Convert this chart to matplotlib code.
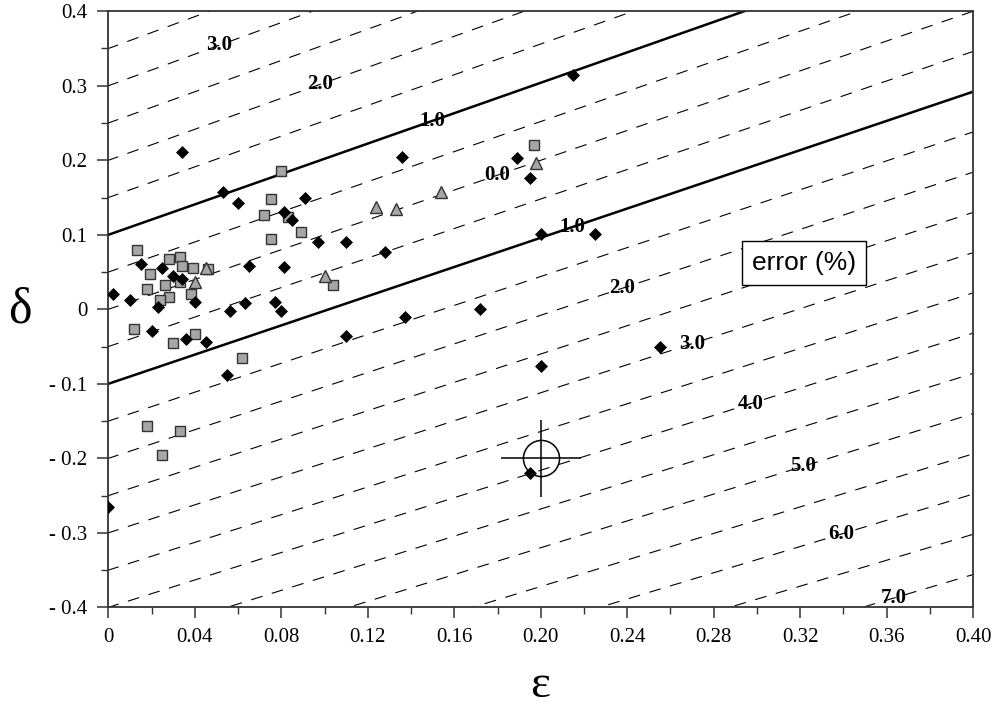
import numpy as np
import matplotlib
matplotlib.use("Agg")
import matplotlib.pyplot as plt

plt.rcParams['lines.scale_dashes'] = False

# ---------------- data ----------------
# black diamonds
dia_eps = [0.034, 0.053, 0.060, 0.091, 0.081, 0.085, 0.097, 0.110, 0.128, 0.136,
           0.015, 0.025, 0.030, 0.034, 0.065, 0.081, 0.002, 0.010, 0.023, 0.040,
           0.056, 0.063, 0.077, 0.080, 0.020, 0.036, 0.045, 0.055, 0.110, 0.000,
           0.215, 0.189, 0.195, 0.200, 0.225, 0.172, 0.137, 0.200, 0.255, 0.195]
dia_del = [0.211, 0.157, 0.143, 0.149, 0.131, 0.120, 0.090, 0.090, 0.077, 0.205,
           0.061, 0.055, 0.045, 0.040, 0.058, 0.057, 0.021, 0.012, 0.003, 0.010,
           -0.002, 0.008, 0.010, -0.002, -0.029, -0.040, -0.044, -0.088, -0.036, -0.265,
           0.314, 0.203, 0.176, 0.101, 0.101, 0.000, -0.011, -0.076, -0.050, -0.220]

# grey squares
sq_eps = [0.080, 0.075, 0.072, 0.083, 0.089, 0.075, 0.013, 0.028, 0.033, 0.034,
          0.039, 0.046, 0.019, 0.026, 0.033, 0.018, 0.028, 0.024, 0.038, 0.104,
          0.012, 0.030, 0.040, 0.062, 0.018, 0.033, 0.025, 0.197]
sq_del = [0.186, 0.148, 0.127, 0.124, 0.104, 0.094, 0.079, 0.068, 0.070, 0.058,
          0.056, 0.054, 0.047, 0.033, 0.037, 0.027, 0.016, 0.012, 0.020, 0.033,
          -0.027, -0.045, -0.033, -0.065, -0.156, -0.163, -0.196, 0.221]

# grey triangles
tri_eps = [0.124, 0.133, 0.045, 0.040, 0.100, 0.198, 0.154]
tri_del = [0.137, 0.134, 0.056, 0.037, 0.045, 0.196, 0.158]

# reference point with cross
ref_eps = [0.200]
ref_del = [-0.200]
ref_eps_err = [0.0185]
ref_del_err = [0.052]

# error contour lines: delta = eps + c * (1 + 0.2 * eps)
contour_offsets = np.round(np.arange(-0.70, 0.351, 0.05), 2)
solid_offsets = [0.10, -0.10]
pivot_coef = 0.2

# contour labels
label_text = ["3.0", "2.0", "1.0", "0.0", "1.0", "2.0", "3.0", "4.0", "5.0", "6.0", "7.0"]
label_c    = [0.30, 0.20, 0.10, 0.00, -0.10, -0.20, -0.30, -0.40, -0.50, -0.60, -0.70]
label_eps  = [0.0514, 0.0978, 0.1497, 0.180, 0.2146, 0.2378, 0.2702, 0.2971, 0.3212, 0.3388, 0.3634]

xticks = [0, 0.04, 0.08, 0.12, 0.16, 0.20, 0.24, 0.28, 0.32, 0.36, 0.40]
xticklabels = ["0", "0.04", "0.08", "0.12", "0.16", "0.20", "0.24", "0.28", "0.32", "0.36", "0.40"]
yticks = [-0.4, -0.3, -0.2, -0.1, 0, 0.1, 0.2, 0.3, 0.4]
yticklabels = ["- 0.4", "- 0.3", "- 0.2", "- 0.1", "0", "0.1", "0.2", "0.3", "0.4"]

# ---------------- plot ----------------
serif = "Liberation Serif"
fig = plt.figure(figsize=(9.95, 7.10), dpi=100)
ax = fig.add_axes([0.109, 0.1446, 0.869, 0.8396])

eps_grid = np.linspace(-0.01, 0.41, 200)


def line(c, e):
    return e + c * (1 + pivot_coef * e)


for c in contour_offsets:
    if any(abs(c - s) < 1e-9 for s in solid_offsets):
        continue
    ax.plot(eps_grid, line(c, eps_grid), color="black", lw=0.8,
            linestyle=(0, (8.5, 7)), zorder=1)
for c in solid_offsets:
    ax.plot(eps_grid, line(c, eps_grid), color="black", lw=1.8, zorder=2)

for t, c, e in zip(label_text, label_c, label_eps):
    ax.text(e, line(c, e), t, fontfamily=serif, fontweight="bold", fontsize=15,
            ha="center", va="center", zorder=3)

ax.plot(dia_eps, dia_del, linestyle="none", marker="D", ms=6,
        mfc="black", mec="black", mew=0.5, zorder=5)
ax.plot(sq_eps, sq_del, linestyle="none", marker="s", ms=6.8,
        mfc="#a6a6a6", mec="#333333", mew=1.0, zorder=4)
ax.plot(tri_eps, tri_del, linestyle="none", marker="^", ms=8,
        mfc="#a6a6a6", mec="#333333", mew=1.0, zorder=4)

ax.errorbar(ref_eps, ref_del, xerr=ref_eps_err, yerr=ref_del_err, fmt="o",
            ms=26, mfc="none", mec="black", mew=1.1, ecolor="black",
            elinewidth=1.1, capsize=0, zorder=6)

ax.text(0.3218, 0.062, "error (%)", fontfamily="Liberation Sans", fontsize=19,
        ha="center", va="center", zorder=7,
        bbox=dict(boxstyle="square,pad=0.38", fc="white", ec="black", lw=1.0))

ax.set_xlim(0, 0.40)
ax.set_ylim(-0.4, 0.4)
ax.set_xticks(xticks)
ax.set_xticklabels(xticklabels, fontfamily=serif, fontsize=15)
ax.set_yticks(yticks)
ax.set_yticklabels(yticklabels, fontfamily=serif, fontsize=15)
ax.set_xticks(np.arange(0.02, 0.40, 0.04), minor=True)
ax.set_yticks(np.arange(-0.35, 0.40, 0.1), minor=True)
ax.tick_params(which="major", direction="out", length=8, width=1.1, color="#333333", pad=7)
ax.tick_params(which="minor", direction="out", length=5, width=1.0, color="#333333")

for s in ax.spines.values():
    s.set_linewidth(1.3)
    s.set_color("#333333")

ax.set_xlabel("ε", fontfamily=serif, fontsize=34, va="baseline")
ax.set_ylabel("δ", fontfamily=serif, fontsize=36, rotation=0, va="center", ha="center")
ax.xaxis.set_label_coords(0.499, -0.150)
ax.yaxis.set_label_coords(-0.102, 0.499)

fig.savefig("out.png", dpi=100)
